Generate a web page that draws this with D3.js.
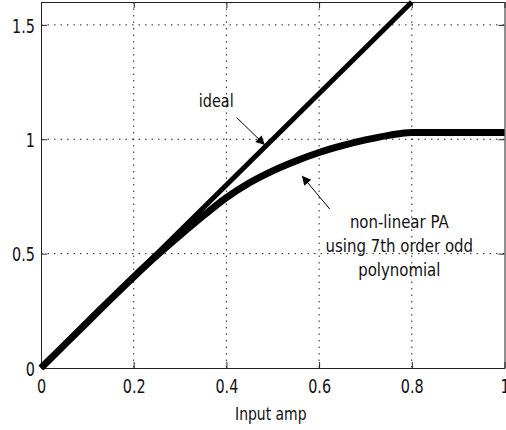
<!DOCTYPE html>
<html>
<head>
<meta charset="utf-8">
<script src="https://cdn.jsdelivr.net/npm/d3@7"></script>
<style>
  body { margin: 0; background: #fff; }
  text { font-family: "DejaVu Sans", sans-serif; fill: #111; }
</style>
</head>
<body>
<div id="chart"></div>
<script>
// data
var xTicks = [0, 0.2, 0.4, 0.6, 0.8, 1];
var yTicks = [0, 0.5, 1, 1.5];
var idealX = [0, 0.8];
var idealY = [0, 1.6];
var paX = [0, 0.05, 0.1, 0.15, 0.2, 0.25, 0.3, 0.35, 0.4, 0.45, 0.5, 0.55, 0.6, 0.65, 0.7, 0.75, 0.8, 0.9, 1.0];
var paY = [0, 0.1, 0.2, 0.3, 0.398, 0.492, 0.58, 0.665, 0.745, 0.81, 0.862, 0.905, 0.942, 0.972, 0.997, 1.017, 1.03, 1.03, 1.03];
var noteLines = ["non-linear PA", "using 7th order odd", "polynomial"];

var svgWidth = 506;
var svgHeight = 430;
var margin = { top: 2, right: 1.5, bottom: 62, left: 41 };
var width = svgWidth - margin.left - margin.right;
var height = svgHeight - margin.top - margin.bottom;

var svg = d3.select("#chart").append("svg")
  .attr("width", svgWidth)
  .attr("height", svgHeight);

var g = svg.append("g")
  .attr("transform", `translate(${margin.left}, ${margin.top})`);

var x = d3.scaleLinear().domain([0, 1]).range([0, width]);
var y = d3.scaleLinear().domain([0, 1.6]).range([height, 0]);

// no narrow font here, so squeeze texts sideways like the matlab font
function squeeze(sel, sx) {
  sel.each(function() {
    var t = d3.select(this);
    var tx = +t.attr("x") || 0, ty = +t.attr("y") || 0;
    t.attr("x", 0).attr("y", 0)
      .attr("transform", `translate(${tx},${ty}) scale(${sx},1)`);
  });
}

// dotted grid
g.selectAll(".gx").data(xTicks.slice(1, -1)).enter().append("line")
  .attr("x1", d => x(d)).attr("x2", d => x(d))
  .attr("y1", 0).attr("y2", height)
  .attr("stroke", "#222").attr("stroke-width", 1)
  .attr("stroke-dasharray", "1.5,5");
g.selectAll(".gy").data(yTicks.slice(1)).enter().append("line")
  .attr("x1", 0).attr("x2", width)
  .attr("y1", d => y(d)).attr("y2", d => y(d))
  .attr("stroke", "#222").attr("stroke-width", 1)
  .attr("stroke-dasharray", "1.5,5");

// axes with inward ticks
var xAxis = g.append("g")
  .attr("transform", `translate(0, ${height})`)
  .call(d3.axisBottom(x).tickValues(xTicks).tickFormat(d3.format("")).tickSizeInner(-6).tickSizeOuter(0).tickPadding(11));
var yAxis = g.append("g")
  .call(d3.axisLeft(y).tickValues(yTicks).tickFormat(d3.format("")).tickSizeInner(-6).tickSizeOuter(0).tickPadding(6));
g.append("g")
  .call(d3.axisTop(x).tickValues(xTicks).tickFormat("").tickSizeInner(-6).tickSizeOuter(0));
g.append("g")
  .attr("transform", `translate(${width}, 0)`)
  .call(d3.axisRight(y).tickValues(yTicks).tickFormat("").tickSizeInner(-6).tickSizeOuter(0));

g.selectAll(".domain").attr("stroke", "#222");
g.selectAll(".tick line").attr("stroke", "#222");
g.selectAll("g").attr("font-family", null);
g.selectAll(".tick text").attr("font-size", "20px").attr("fill", "#111");
yAxis.selectAll(".tick text").attr("dy", "0.36em");
squeeze(xAxis.selectAll(".tick text"), 0.72);
squeeze(yAxis.selectAll(".tick text"), 0.72);

// x label
g.append("text")
  .attr("x", width / 2 - 2)
  .attr("y", height + 52)
  .attr("text-anchor", "middle")
  .attr("font-size", "17px")
  .text("Input amp")
  .call(squeeze, 0.82);

// curves
var line = d3.line().x(d => x(d[0])).y(d => y(d[1]));
g.append("path")
  .datum(idealX.map((v, i) => [v, idealY[i]]))
  .attr("d", line)
  .attr("fill", "none").attr("stroke", "#000").attr("stroke-width", 5);

g.append("path")
  .datum(paX.map((v, i) => [v, paY[i]]))
  .attr("d", line.curve(d3.curveMonotoneX))
  .attr("fill", "none").attr("stroke", "#000").attr("stroke-width", 7)
  .attr("stroke-linejoin", "round");

// annotations
svg.append("defs").append("marker")
  .attr("id", "head")
  .attr("viewBox", "0 0 10 10")
  .attr("refX", 10).attr("refY", 5)
  .attr("markerWidth", 12).attr("markerHeight", 9)
  .attr("markerUnits", "userSpaceOnUse")
  .attr("orient", "auto")
  .append("path").attr("d", "M0,0 L10,5 L0,10 z").attr("fill", "#000");

// "ideal" arrow points at the ideal line near x = 0.5
g.append("line")
  .attr("x1", x(0.422)).attr("y1", y(1.095))
  .attr("x2", x(0.483)).attr("y2", y(0.975))
  .attr("stroke", "#000").attr("stroke-width", 1)
  .attr("marker-end", "url(#head)");
g.append("text")
  .attr("x", x(0.378)).attr("y", y(1.14))
  .attr("text-anchor", "middle")
  .attr("font-size", "17px")
  .text("ideal")
  .call(squeeze, 0.85);

// non-linear arrow points at the PA curve near x = 0.56
g.append("line")
  .attr("x1", x(0.623)).attr("y1", y(0.695))
  .attr("x2", x(0.563)).attr("y2", y(0.84))
  .attr("stroke", "#000").attr("stroke-width", 1)
  .attr("marker-end", "url(#head)");
g.selectAll(".note").data(noteLines).enter().append("text")
  .attr("x", x(0.773))
  .attr("y", (d, i) => y(0.61) + i * 24)
  .attr("text-anchor", "middle")
  .attr("font-size", "17px")
  .text(d => d)
  .call(squeeze, 0.88);
</script>
</body>
</html>
